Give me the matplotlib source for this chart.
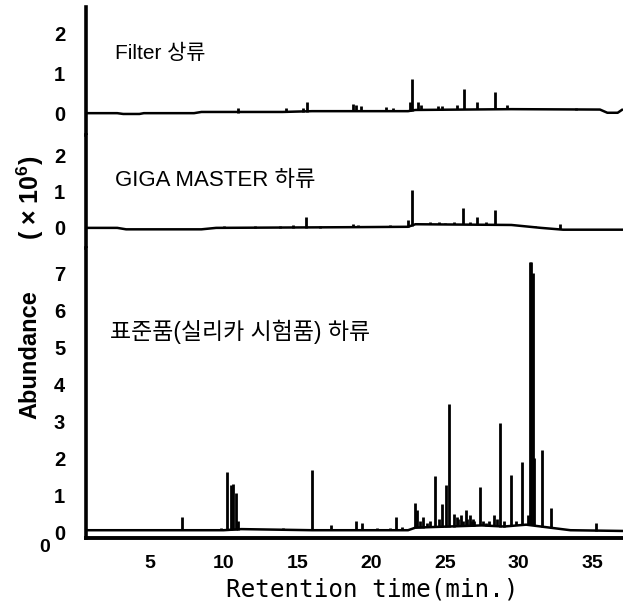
"""
GC-MS total ion chromatograms: Filter upstream / GIGA MASTER downstream / standard downstream
"""

import numpy as np
import matplotlib.pyplot as plt

plt.rcParams['font.family'] = ['Liberation Sans', 'DejaVu Sans']
plt.rcParams['mathtext.default'] = 'regular'

LABEL_FONT = ['Liberation Sans', 'Noto Sans CJK KR', 'DejaVu Sans']

X_MIN, X_MAX = 0.68, 37.06
X_TICKS = [5, 10, 15, 20, 25, 30, 35]

# panel 1: Filter 상류 (abundance x 10^6)
base1_t = [0.68, 2.8, 3.2, 4.3, 4.6, 8.0, 8.5, 14.0, 16.0, 22.5, 23.0, 29.5, 35.5, 36.0, 36.7, 37.06]
base1_y = [0.0, 0.0, -0.02, -0.02, 0.0, 0.0, 0.03, 0.03, 0.05, 0.05, 0.08, 0.1, 0.09, 0.01, 0.01, 0.1]
peak1_t = [11.0, 14.2, 15.4, 15.65, 16.6, 17.1, 18.8, 19.0, 19.3, 21.0, 21.5, 22.6, 22.8, 23.2,
           23.4, 24.5, 24.8, 25.8, 26.3, 27.2, 28.4, 29.2, 33.9]
peak1_b = [0.0, 0.03, 0.03, 0.03, 0.05, 0.05, 0.05, 0.05, 0.05, 0.05, 0.05, 0.05, 0.05, 0.08,
           0.08, 0.08, 0.08, 0.1, 0.1, 0.1, 0.1, 0.1, 0.09]
peak1_h = [0.13, 0.12, 0.12, 0.28, 0.08, 0.08, 0.22, 0.2, 0.17, 0.16, 0.14, 0.27, 0.85, 0.28,
           0.2, 0.18, 0.18, 0.2, 0.6, 0.28, 0.53, 0.2, 0.12]

# panel 2: GIGA MASTER 하류
base2_t = [0.68, 2.8, 3.4, 8.5, 9.5, 19.0, 22.5, 23.0, 29.5, 31.5, 33.0, 37.06]
base2_y = [0.0, 0.0, -0.04, -0.04, 0.0, 0.02, 0.03, 0.1, 0.08, 0.0, -0.05, -0.05]
peak2_t = [10.0, 12.1, 13.8, 14.7, 15.6, 16.5, 17.8, 18.8, 19.1, 21.3, 22.5, 22.8, 23.2, 24.0,
           24.6, 25.0, 25.6, 26.2, 26.7, 27.2, 27.8, 28.4, 29.2, 31.1, 32.8]
peak2_b = [0.0, 0.01, 0.01, 0.01, 0.01, 0.01, 0.02, 0.02, 0.02, 0.02, 0.03, 0.05, 0.1, 0.1,
           0.1, 0.1, 0.1, 0.1, 0.1, 0.1, 0.09, 0.08, 0.08, 0.02, -0.02]
peak2_h = [0.05, 0.06, 0.05, 0.08, 0.3, 0.06, 0.06, 0.1, 0.08, 0.08, 0.22, 1.04, 0.12, 0.15,
           0.16, 0.14, 0.15, 0.55, 0.16, 0.3, 0.15, 0.5, 0.08, 0.05, 0.12]

# panel 3: 표준품(실리카 시험품) 하류
base3_t = [0.68, 10.0, 11.2, 16.0, 22.5, 23.0, 27.5, 29.0, 30.5, 32.5, 33.5, 37.06]
base3_y = [0.05, 0.05, 0.08, 0.05, 0.05, 0.12, 0.18, 0.15, 0.2, 0.1, 0.05, 0.03]
peak3_t = [5.9, 7.2, 9.3, 9.8, 10.2, 10.5, 10.65, 10.85, 11.0, 14.0, 14.4, 16.0, 17.3, 19.0,
           19.4, 20.4, 21.3, 21.7, 22.1, 23.0, 23.1, 23.3, 23.5, 23.8, 24.0, 24.3, 24.6, 24.8,
           25.1, 25.3, 25.6, 25.8, 25.9, 26.1, 26.2, 26.4, 26.5, 26.7, 26.8, 26.9, 27.0, 27.4,
           27.6, 27.8, 28.0, 28.3, 28.5, 28.7, 29.0, 29.5, 29.8, 30.2, 30.6, 30.75, 30.85, 30.95,
           31.05, 31.6, 32.2, 33.3, 35.2]
peak3_b = [0.05, 0.05, 0.05, 0.05, 0.05, 0.05, 0.05, 0.05, 0.06, 0.05, 0.05, 0.05, 0.05, 0.05,
           0.05, 0.05, 0.05, 0.05, 0.05, 0.12, 0.12, 0.12, 0.12, 0.13, 0.13, 0.14, 0.14, 0.15,
           0.15, 0.15, 0.15, 0.16, 0.16, 0.16, 0.16, 0.16, 0.16, 0.17, 0.17, 0.17, 0.17, 0.18,
           0.18, 0.17, 0.17, 0.16, 0.16, 0.15, 0.15, 0.17, 0.18, 0.2, 0.2, 0.2, 0.2, 0.2,
           0.2, 0.15, 0.1, 0.05, 0.03]
peak3_h = [0.05, 0.4, 0.08, 0.1, 1.62, 1.27, 1.3, 1.05, 0.3, 0.1, 0.08, 1.68, 0.19, 0.3,
           0.25, 0.12, 0.12, 0.4, 0.15, 0.78, 0.6, 0.3, 0.4, 0.25, 0.3, 1.51, 0.35, 0.75,
           1.27, 3.46, 0.5, 0.4, 0.35, 0.45, 0.3, 0.6, 0.35, 0.45, 0.3, 0.35, 0.3, 1.22,
           0.3, 0.25, 0.3, 0.45, 0.35, 2.95, 0.3, 1.54, 0.3, 1.89, 0.45, 7.3, 7.3, 7.0,
           2.0, 2.22, 0.65, 0.05, 0.24]

panels = [
    dict(bt=base1_t, by=base1_y, pt=peak1_t, pb=peak1_b, ph=peak1_h, ylim=(-0.55, 2.65),
         ticks=[0, 1, 2], label='Filter 상류', lx=2.64, ly=1.5, fs=15,
         rect=(0.138, 0.778, 0.862, 0.2105)),
    dict(bt=base2_t, by=base2_y, pt=peak2_t, pb=peak2_b, ph=peak2_h, ylim=(-0.55, 2.55),
         ticks=[0, 1, 2], label='GIGA MASTER 하류', lx=2.64, ly=1.3, fs=16,
         rect=(0.138, 0.593, 0.862, 0.185)),
    dict(bt=base3_t, by=base3_y, pt=peak3_t, pb=peak3_b, ph=peak3_h, ylim=(-0.16, 7.68),
         ticks=list(range(8)), label='표준품(실리카 시험품) 하류', lx=2.3, ly=5.4, fs=16.5,
         rect=(0.138, 0.1166, 0.862, 0.4764)),
]

fig = plt.figure(figsize=(6.23, 6.09), dpi=100)

axes = []
for i, p in enumerate(panels):
    ax = fig.add_axes(p['rect'])
    ax.plot(p['bt'], p['by'], color='black', lw=1.8, solid_capstyle='butt')
    ax.vlines(p['pt'], p['pb'], p['ph'], color='black', lw=2.0)
    ax.set_xlim(X_MIN, X_MAX)
    ax.set_ylim(*p['ylim'])
    ax.set_yticks(p['ticks'])
    ax.set_yticklabels([str(t) for t in p['ticks']], fontsize=14.5, fontweight='bold')
    ax.tick_params(axis='y', length=0, pad=15)
    for side in ['top', 'right', 'bottom']:
        ax.spines[side].set_visible(False)
    ax.spines['left'].set_linewidth(2.6)
    ax.text(p['lx'], p['ly'], p['label'], family=LABEL_FONT, fontsize=p['fs'],
            va='center', ha='left')
    if i < 2:
        ax.set_xticks([])
    axes.append(ax)

ax3 = axes[-1]
ax3.spines['bottom'].set_visible(True)
ax3.spines['bottom'].set_linewidth(2.8)
ax3.set_xticks(X_TICKS)
ax3.set_xticklabels([str(t) for t in X_TICKS], fontsize=14, fontweight='bold')
ax3.tick_params(axis='x', length=0, pad=12)

# origin label
fig.text(45 / 623, 1 - 548 / 609, '0', fontsize=14, fontweight='bold', ha='center', va='center')

fig.text(372 / 623, 1 - 590 / 609, 'Retention time(min.)', family='DejaVu Sans Mono',
         fontsize=17.5, ha='center', va='center')

fig.text(30 / 623, 1 - 355 / 609, 'Abundance', rotation=90, fontsize=17,
         fontweight='bold', ha='center', va='center')
fig.text(30 / 623, 1 - 198 / 609, r'( × 10$^{6}$)', rotation=90, fontsize=18,
         fontweight='bold', ha='center', va='center')

fig.savefig('out.png', dpi=100)
